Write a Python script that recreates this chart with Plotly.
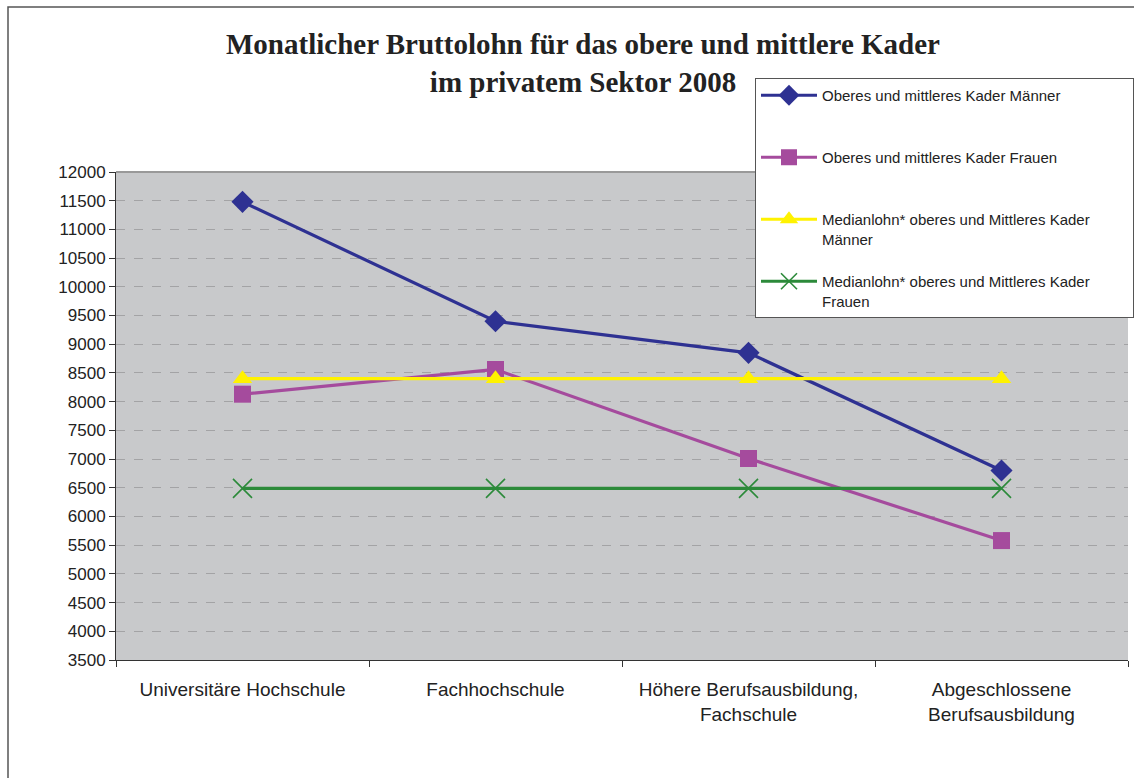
import plotly.graph_objects as go

categories = ["Universitäre Hochschule", "Fachhochschule",
              "Höhere Berufsausbildung,<br>Fachschule", "Abgeschlossene<br>Berufsausbildung"]
men = [11480, 9400, 8850, 6800]
women = [8130, 8560, 7010, 5580]
median_men = [8400, 8400, 8400, 8400]
median_women = [6490, 6490, 6490, 6490]
series_names = ["Oberes und mittleres Kader Männer<br> ",
                "Oberes und mittleres Kader Frauen<br> ",
                "Medianlohn* oberes und Mittleres Kader" + "&nbsp;" * 9 + "<br>Männer",
                "Medianlohn* oberes und Mittleres Kader<br>Frauen"]
y_ticks = list(range(3500, 12001, 500))

W, H = 1134, 778
L, R, T, B = 116, 1128, 172, 660

def px_x(p):
    return (p - L) / (R - L)

def px_y(p):
    return (B - p) / (B - T)

fig = go.Figure()
specs = [
    (men, "#2E3192", dict(symbol="diamond", size=17, color="#2E3192")),
    (women, "#A54B9D", dict(symbol="square", size=17, color="#A54B9D")),
    (median_men, "#FFF200", dict(symbol="triangle-up", size=17, color="#FFF200")),
    (median_women, "#2C8A3A", dict(symbol="x-thin-open", size=19, color="#2C8A3A",
                                  line=dict(width=1.6, color="#2C8A3A"))),
]
for i, (vals, col, mk) in enumerate(specs):
    fig.add_trace(go.Scatter(
        x=categories, y=vals, mode="lines+markers", name=series_names[i],
        line=dict(color=col, width=3.2), marker=mk, legendgroup=f"g{i}",
    ))

fig.update_layout(
    width=W, height=H,
    margin=dict(l=L, r=W - R, t=T, b=H - B, autoexpand=False),
    paper_bgcolor="white", plot_bgcolor="#C8C9CB",
    font=dict(family="Liberation Sans, Arial", color="#222"),
    title=dict(
        text="<b>Monatlicher Bruttolohn für das obere und mittlere Kader<br>im privatem Sektor 2008</b>",
        x=583 / W, xanchor="center", y=1 - 54 / H, yanchor="top",
        font=dict(family="Liberation Serif, Times New Roman", size=29, color="#222"),
    ),
    showlegend=True,
    legend=dict(
        x=px_x(755), y=px_y(78), xanchor="left", yanchor="top",
        bgcolor="white", bordercolor="#555", borderwidth=1,
        font=dict(size=15, color="#222"), traceorder="grouped",
        tracegroupgap=20, valign="top", itemwidth=56,
    ),
    xaxis=dict(
        showgrid=False, showline=True, linecolor="#333", linewidth=1,
        ticks="outside", tickson="boundaries", ticklen=6, tickcolor="#333",
        tickfont=dict(size=19, color="#222"), range=[-0.5, 3.5], fixedrange=True,
        ticklabelstandoff=12,
    ),
    yaxis=dict(
        range=[3500, 12000], tickvals=y_ticks, tickformat="d", showgrid=True,
        gridcolor="#A3A3A5", griddash="dash", gridwidth=1, showline=True,
        linecolor="#333", linewidth=1, ticks="outside", ticklen=6, tickcolor="#333",
        tickfont=dict(size=17, color="#222"), zeroline=False, fixedrange=True,
    ),
    shapes=[
        dict(type="line", xref="paper", yref="paper", x0=0, x1=1, y0=1, y1=1,
             line=dict(color="#999", width=2)),
        dict(type="rect", xref="paper", yref="paper", x0=px_x(8), x1=px_x(1145),
             y0=px_y(790), y1=px_y(7), line=dict(color="#555", width=1.5), layer="below"),
    ],
)

fig.write_html("out.html", config={"displayModeBar": False},
               post_script="document.body.style.margin='0';")
